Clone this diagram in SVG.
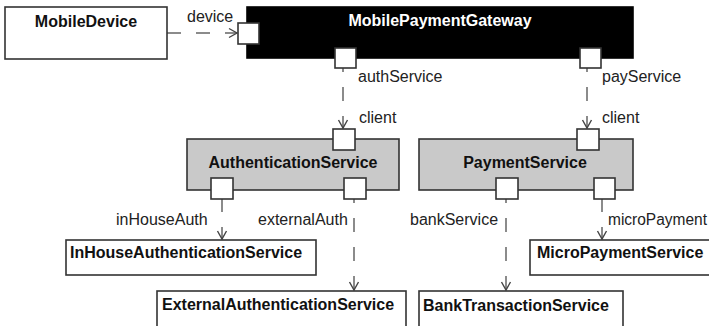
<svg xmlns="http://www.w3.org/2000/svg" width="709" height="326" viewBox="0 0 709 326">
<defs>
<style>
.box{fill:#fff;stroke:#333;stroke-width:1.6}
.gray{fill:#c9c9c9;stroke:#333;stroke-width:1.6}
.blk{fill:#000;stroke:#000;stroke-width:1.6}
.port{fill:#fff;stroke:#333;stroke-width:1.6}
.title{font-family:"Liberation Sans",Arial,sans-serif;font-size:16px;font-weight:bold;fill:#111}
.wt{fill:#fff}
.lbl{font-family:"Liberation Sans",Arial,sans-serif;font-size:16px;fill:#222}
.con{fill:none;stroke:#666;stroke-width:1.5;stroke-dasharray:14 15}
</style>
<marker id="arr" viewBox="-10 -6 12 12" refX="0" refY="0" markerWidth="12" markerHeight="12" markerUnits="userSpaceOnUse" orient="auto">
<path d="M-8,-4.5 L0,0 L-8,4.5" fill="none" stroke="#444" stroke-width="1.4"/>
</marker>
</defs>
<rect width="709" height="326" fill="#fff"/>

<g id="connectors">
<line class="con" x1="167" y1="33" x2="237" y2="33" marker-end="url(#arr)"/>
<line class="con" x1="343" y1="58" x2="343" y2="128" marker-end="url(#arr)"/>
<line class="con" x1="587" y1="58" x2="587" y2="128" marker-end="url(#arr)"/>
<line class="con" x1="222" y1="198" x2="222" y2="239" marker-end="url(#arr)"/>
<line class="con" x1="354" y1="189" x2="354" y2="290" marker-end="url(#arr)"/>
<line class="con" x1="506" y1="189" x2="506" y2="290" marker-end="url(#arr)"/>
<line class="con" x1="602" y1="198" x2="602" y2="239" marker-end="url(#arr)"/>
<text class="lbl" x="187" y="22">device</text>
<text class="lbl" x="358" y="82">authService</text>
<text class="lbl" x="602" y="82">payService</text>
<text class="lbl" x="359" y="123">client</text>
<text class="lbl" x="602" y="123">client</text>
<text class="lbl" x="116" y="225">inHouseAuth</text>
<text class="lbl" x="258" y="225">externalAuth</text>
<text class="lbl" x="410" y="225">bankService</text>
<text class="lbl" x="608" y="225" textLength="99" lengthAdjust="spacingAndGlyphs">microPayment</text>
</g>

<g id="MobileDevice">
<rect class="box" x="5" y="7" width="162" height="52"/>
<text class="title" x="86" y="27" text-anchor="middle">MobileDevice</text>
</g>

<g id="MobilePaymentGateway">
<rect class="blk" x="247" y="7" width="386" height="51"/>
<text class="title wt" x="440" y="26" text-anchor="middle">MobilePaymentGateway</text>
<rect class="port" x="238" y="23" width="21" height="21"/>
<rect class="port" x="335" y="48" width="21" height="20"/>
<rect class="port" x="580" y="48" width="21" height="20"/>
</g>

<g id="AuthenticationService">
<rect class="gray" x="187" y="139" width="212" height="51"/>
<text class="title" x="293" y="168" text-anchor="middle">AuthenticationService</text>
<rect class="port" x="333" y="129" width="22" height="21"/>
<rect class="port" x="211" y="178" width="22" height="21"/>
<rect class="port" x="344" y="178" width="22" height="21"/>
</g>

<g id="PaymentService">
<rect class="gray" x="419" y="139" width="214" height="51"/>
<text class="title" x="525" y="168" text-anchor="middle">PaymentService</text>
<rect class="port" x="577" y="129" width="22" height="21"/>
<rect class="port" x="496" y="178" width="22" height="21"/>
<rect class="port" x="594" y="178" width="21" height="21"/>
</g>

<g id="InHouseAuthenticationService">
<rect class="box" x="66" y="240" width="250" height="35"/>
<text class="title" x="70" y="258">InHouseAuthenticationService</text>
</g>

<g id="ExternalAuthenticationService">
<rect class="box" x="157" y="291" width="249" height="40"/>
<text class="title" x="162" y="310">ExternalAuthenticationService</text>
</g>

<g id="BankTransactionService">
<rect class="box" x="419" y="291" width="204" height="40"/>
<text class="title" x="423" y="311">BankTransactionService</text>
</g>

<g id="MicroPaymentService">
<rect class="box" x="530" y="240" width="185" height="35"/>
<text class="title" x="537" y="258">MicroPaymentService</text>
</g>
</svg>
